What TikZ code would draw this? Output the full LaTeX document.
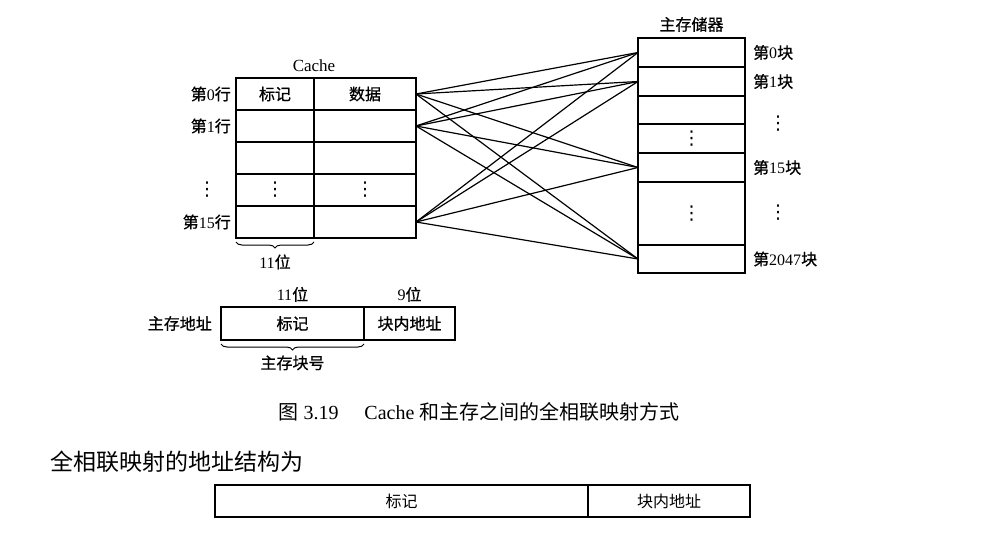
\documentclass[tikz,border=0pt]{standalone}
\usepackage{fontspec}
\setmainfont{Liberation Serif}
\newfontfamily\hei{Noto Sans CJK SC}
\newfontfamily\heib{Noto Sans CJK SC}[FakeBold=0.8]
\newfontfamily\sym{DejaVu Sans}
\usetikzlibrary{decorations.pathreplacing}
\newcommand{\hz}[1]{{\heib #1}}
\newcommand{\hzr}[1]{{\hei #1}}
\newcommand{\vd}{{\sym\fontsize{19}{22}\selectfont ⋮}}

\tikzset{
  cell/.style={draw, line width=1.6pt, anchor=north west, inner sep=0pt, outer sep=0pt,
    font=\fontsize{16}{19}\selectfont},
  lbl/.style={inner sep=0pt, font=\fontsize{16}{19}\selectfont},
  wire/.style={line width=1.2pt},
  bitbrace/.style={line width=1pt, decorate, decoration={brace, amplitude=6pt}},
}

\begin{document}
\begin{tikzpicture}[x=1pt, y=-1pt]
    \useasboundingbox (0,0) rectangle (995,533);

    % Cache: tag and data columns
    \foreach \r/\tg/\dt in {0/\hz{标记}/\hz{数据}, 1//, 2//, 3/\vd/\vd, 4//}{
    \node[cell, minimum width=78pt, minimum height=32pt] (t\r) at (236,{78+32*\r}) {\tg};
    \node[cell, minimum width=102pt, minimum height=32pt] (d\r) at (314,{78+32*\r}) {\dt};
    }
    \node[lbl, above=6pt, font=\fontsize{17}{20}\selectfont] (cachename) at (t0.north east) {Cache};
    \node[lbl, anchor=east] (row0) at ([xshift=-5pt]t0.west) {\hz{第}0\hz{行}};
    \node[lbl, anchor=east] (row1) at ([xshift=-5pt]t1.west) {\hz{第}1\hz{行}};
    \node[lbl] (rowdots) at (207,190) {\vd};
    \node[lbl, anchor=east] (row15) at ([xshift=-5pt]t4.west) {\hz{第}15\hz{行}};
    \draw[bitbrace] ([yshift=-4pt]t4.south east) -- ([yshift=-4pt]t4.south west)
    node[lbl, midway, below=12pt] (tagbits) {11\hz{位}};

    % main memory blocks
    \foreach \r/\yy/\hh/\txt in {0/38/29/, 1/67/29/, 2/96/28/, 3/124/29/\vd,
    4/153/29/, 5/182/63/\vd, 6/245/28/}
    \node[cell, minimum width=107pt, minimum height=\hh pt] (m\r) at (638,\yy) {\txt};
    \node[lbl, above=6pt] (memname) at (m0.north) {\hz{主存储器}};
    \node[lbl, anchor=west] (blk0) at ([xshift=8pt]m0.east) {\hz{第}0\hz{块}};
    \node[lbl, anchor=west] (blk1) at ([xshift=8pt]m1.east) {\hz{第}1\hz{块}};
    \node[lbl] (blkdots1) at (778,124) {\vd};
    \node[lbl, anchor=west] (blk15) at ([xshift=8pt]m4.east) {\hz{第}15\hz{块}};
    \node[lbl] (blkdots2) at (778,213) {\vd};
    \node[lbl, anchor=west] (blk2047) at ([xshift=8pt]m6.east) {\hz{第}2047\hz{块}};

    % any line may go to any block
    \foreach \c in {0,1,4}
    \foreach \m in {0,1,4,6}
    \draw[wire] (d\c.east) -- (m\m.west);

    % main memory address
    \node[cell, minimum width=143pt, minimum height=33pt] (adrtag) at (221,307) {\hz{标记}};
    \node[cell, minimum width=91pt, minimum height=33pt] (adroff) at (364,307) {\hz{块内地址}};
    \node[lbl, anchor=east] (adrname) at ([xshift=-9pt]adrtag.west) {\hz{主存地址}};
    \node[lbl, above=5pt] (adrtagbits) at (adrtag.north) {11\hz{位}};
    \node[lbl, above=5pt] (adroffbits) at (adroff.north) {9\hz{位}};
    \draw[bitbrace] ([yshift=-4pt]adrtag.south east) -- ([yshift=-4pt]adrtag.south west)
    node[lbl, midway, below=11pt] (blknum) {\hz{主存块号}};

    \node[lbl, font=\fontsize{20}{24}\selectfont] (caption) at (479,412)
    {\hzr{图} 3.19\hspace{1.3em}Cache \hzr{和主存之间的全相联映射方式}};

    % address format
    \node[lbl, anchor=west, font=\fontsize{23}{28}\selectfont] (intro) at (50,462)
    {\hzr{全相联映射的地址结构为}};
    \node[cell, line width=1.2pt, minimum width=373pt, minimum height=32pt] (fmttag) at (215,485) {\hzr{标记}};
    \node[cell, line width=1.2pt, minimum width=162pt, minimum height=32pt] (fmtoff) at (588,485) {\hzr{块内地址}};

\end{tikzpicture}
\end{document}
